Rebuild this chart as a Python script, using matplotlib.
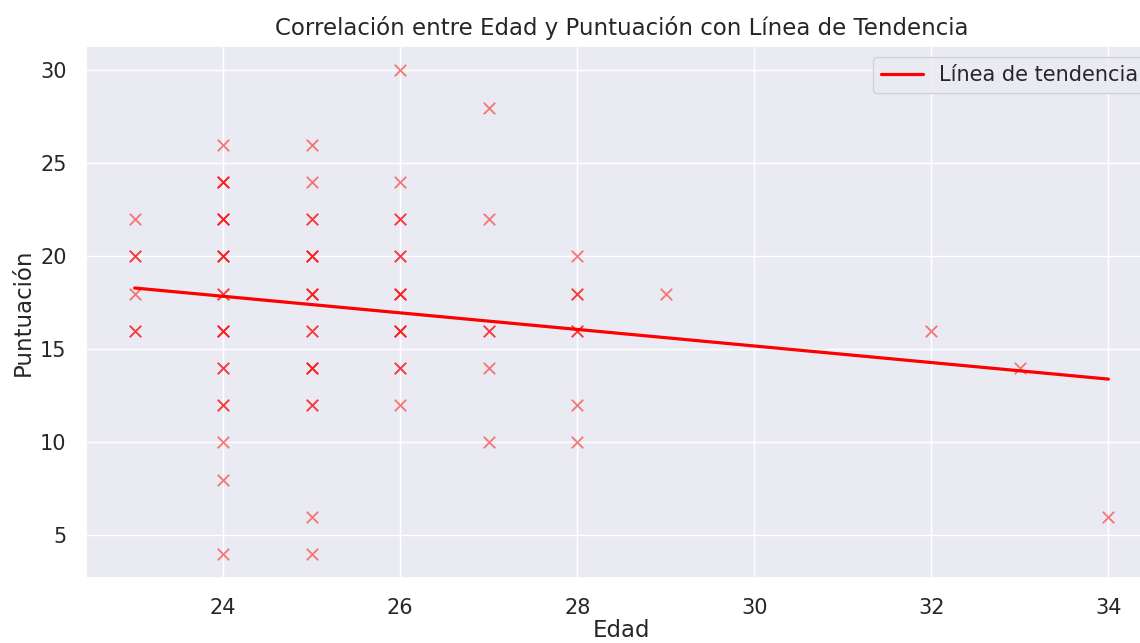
import numpy as np
import matplotlib
matplotlib.use("Agg")
import matplotlib.pyplot as plt
import seaborn as sns

# (edad, puntuacion, repeticiones)
edad = [23, 23, 23, 23,
        24, 24, 24, 24, 24, 24, 24, 24, 24, 24, 24,
        25, 25, 25, 25, 25, 25, 25, 25, 25, 25,
        26, 26, 26, 26, 26, 26, 26, 26,
        27, 27, 27, 27, 27,
        28, 28, 28, 28, 28,
        29, 32, 33, 34]
puntuacion = [22, 20, 18, 16,
              26, 24, 22, 20, 18, 16, 14, 12, 10, 8, 4,
              26, 24, 22, 20, 18, 16, 14, 12, 6, 4,
              30, 24, 22, 20, 18, 16, 14, 12,
              28, 22, 16, 14, 10,
              20, 18, 16, 12, 10,
              18, 16, 14, 6]
repeticiones = [1, 2, 1, 2,
                1, 3, 3, 3, 2, 3, 2, 2, 1, 1, 1,
                1, 1, 2, 3, 3, 2, 3, 2, 1, 1,
                1, 1, 2, 2, 3, 3, 2, 1,
                1, 1, 2, 1, 1,
                1, 2, 2, 1, 1,
                1, 1, 1, 1]

# linea de tendencia (extremos)
tendencia_x = [23, 34]
tendencia_y = [18.3, 13.4]

x = np.repeat(edad, repeticiones)
y = np.repeat(puntuacion, repeticiones)

sns.set_theme(style="darkgrid")
plt.rcParams["font.family"] = ["DejaVu Sans"]

fig = plt.figure(figsize=(11.4, 6.43), dpi=100)
ax = fig.add_axes([0.0754, 0.101, 0.9396, 0.827])

ax.scatter(x, y, marker="x", color="red", alpha=0.5, s=68, linewidths=1.3)
ax.plot(tendencia_x, tendencia_y, color="red", linewidth=2.3,
        label="Línea de tendencia")

ax.set_xticks([24, 26, 28, 30, 32, 34])
ax.set_yticks([5, 10, 15, 20, 25, 30])
ax.tick_params(labelsize=15, pad=8)
ax.set_xlabel("Edad", fontsize=16.5, labelpad=1)
ax.set_ylabel("Puntuación", fontsize=16.5)
ax.set_title("Correlación entre Edad y Puntuación con Línea de Tendencia",
             fontsize=16.5, pad=8)
ax.legend(loc="upper right", fontsize=15)

fig.savefig("out.png", dpi=100)
